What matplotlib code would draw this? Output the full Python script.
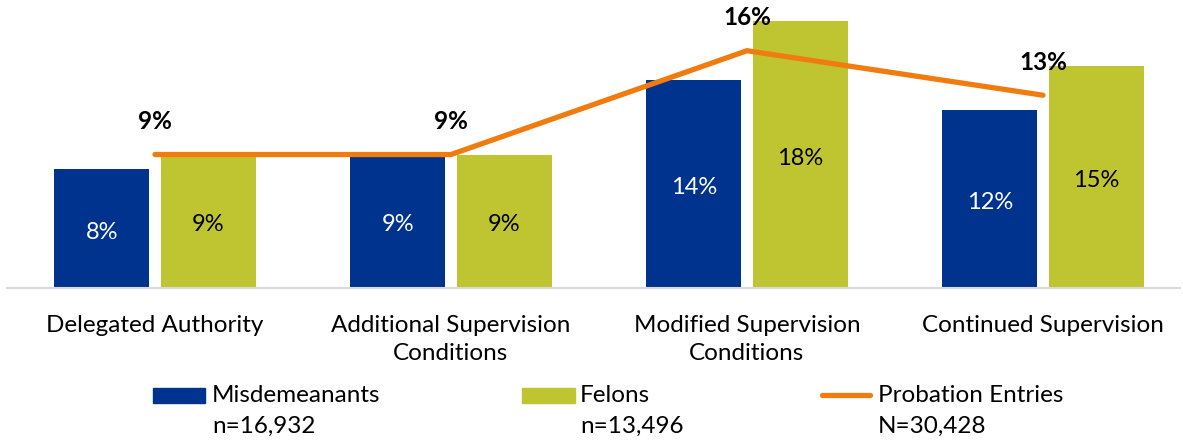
import matplotlib
matplotlib.use("Agg")
import matplotlib.pyplot as plt
from matplotlib.patches import Rectangle
from matplotlib.lines import Line2D
import numpy as np

categories = ["Delegated Authority", "Additional Supervision\nConditions",
              "Modified Supervision\nConditions", "Continued Supervision"]
misdemeanants = [8, 9, 14, 12]
felons = [9, 9, 18, 15]
probation_entries = [9, 9, 16, 13]
legend_labels = ["Misdemeanants", "Felons", "Probation Entries"]
legend_counts = ["n=16,932", "n=13,496", "N=30,428"]

NAVY = "#00338D"
GREEN = "#BFC530"
ORANGE = "#F07C10"

plt.rcParams['font.family'] = ['Lato', 'DejaVu Sans']
FS = 17.5

W, H = 1183, 441
fig = plt.figure(figsize=(W / 100, H / 100), dpi=100)
ax = fig.add_axes([7 / W, (H - 288) / H, (1180 - 7) / W, 288 / H])

x = np.arange(len(categories))
bw = 0.32
off = 0.18
b1 = ax.bar(x - off, misdemeanants, bw, color=NAVY, zorder=2)
b2 = ax.bar(x + off, felons, bw, color=GREEN, zorder=2)
ax.plot(x, probation_entries, color=ORANGE, lw=3.8, solid_capstyle='round',
        solid_joinstyle='miter', zorder=3)

for rect, v in zip(b1, misdemeanants):
    ax.annotate(f"{v}%", (rect.get_x() + rect.get_width() / 2, v / 2),
                xytext=(0, -2.5), textcoords='offset points',
                ha='center', va='center', color='white', fontsize=17, zorder=4)
for rect, v in zip(b2, felons):
    ax.annotate(f"{v}%", (rect.get_x() + rect.get_width() / 2, v / 2),
                xytext=(0, -2.5), textcoords='offset points',
                ha='center', va='center', color='black', fontsize=17, zorder=4)
for xi, v in zip(x, probation_entries):
    ax.annotate(f"{v}%", (xi, v), xytext=(0, 18.3), textcoords='offset points',
                ha='center', va='baseline', fontsize=FS, fontweight='bold', zorder=5)

ax.set_xlim(-0.5, 3.463)
ax.set_ylim(0, 288 / 14.83)
ax.set_xticks(x)
ax.set_xticklabels(categories, fontsize=FS, linespacing=1.42)
ax.tick_params(axis='x', length=0, pad=19.5)
ax.set_yticks([])
for s in ['top', 'right', 'left']:
    ax.spines[s].set_visible(False)
ax.spines['bottom'].set_color('#D9D9D9')
ax.spines['bottom'].set_linewidth(1.5)

# legend
def fx(px):
    return px / W
def fy(py):
    return 1 - py / H

fig.patches.append(Rectangle((fx(153), fy(403)), fx(205) - fx(153), fy(388) - fy(403),
                             transform=fig.transFigure, color=NAVY))
fig.patches.append(Rectangle((fx(522), fy(403)), fx(575) - fx(522), fy(388) - fy(403),
                             transform=fig.transFigure, color=GREEN))
fig.lines.append(Line2D([fx(822), fx(870)], [fy(395), fy(395)], transform=fig.transFigure,
                        color=ORANGE, lw=3.8, solid_capstyle='round'))
for tx, lab, cnt in zip([212, 580, 878], legend_labels, legend_counts):
    fig.text(fx(tx), fy(396), lab, ha='left', va='center', fontsize=FS)
    fig.text(fx(tx), fy(426), cnt, ha='left', va='center', fontsize=FS)

fig.savefig("out.png", dpi=100)
